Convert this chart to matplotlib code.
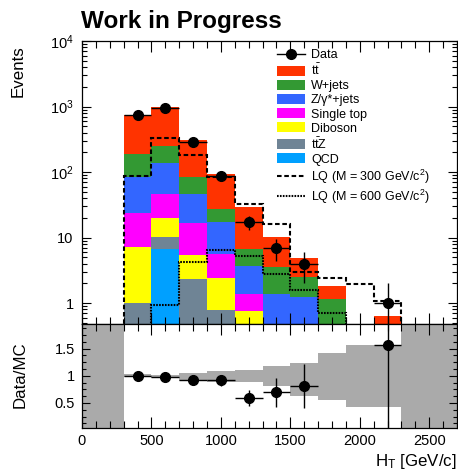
import numpy as np
import matplotlib
matplotlib.use("Agg")
import matplotlib.pyplot as plt
from matplotlib.ticker import MultipleLocator, FixedLocator, FuncFormatter, NullFormatter, LogLocator
from matplotlib.lines import Line2D
from matplotlib.patches import Patch

plt.rcParams['font.family'] = ['Liberation Sans', 'DejaVu Sans']
plt.rcParams['mathtext.fontset'] = 'custom'
plt.rcParams['mathtext.rm'] = 'Liberation Sans'
plt.rcParams['mathtext.it'] = 'Liberation Sans:italic'
plt.rcParams['mathtext.bf'] = 'Liberation Sans:bold'

# ---- binning (H_T in GeV/c) ----
bin_edges = [300, 500, 700, 900, 1100, 1300, 1500, 1700, 1900, 2100, 2300]

# ---- observed events ----
data_counts = [740, 950, 284, 87, 17, 7, 4, 0, 0, 1]

# ---- background expectations (stacked bottom -> top) ----
qcd = [0, 6.6, 0, 0, 0, 0, 0, 0, 0, 0]
ttz = [1.0, 3.7, 2.3, 0.78, 0.3, 0.1, 0.05, 0, 0, 0]
diboson = [6.2, 9.3, 3.1, 1.62, 0.45, 0.1, 0.05, 0.05, 0, 0]
single_top = [16.2, 27.4, 11.1, 3.3, 0.65, 0.1, 0.1, 0.05, 0, 0]
zjets = [61.6, 89, 30.5, 11.7, 2.3, 1.07, 1.02, 0.2, 0, 0]
wjets = [105, 115, 38, 9.6, 3.1, 2.23, 1.28, 0.85, 0, 0]
ttbar = [552, 722, 223, 68, 22.1, 6.5, 2.4, 0.69, 0, 0.64]

# ---- leptoquark signal hypotheses ----
lq300 = [88, 334, 180, 85, 33, 16, 3.0, 2.4, 1.93, 1.08]
lq600 = [0.3, 0.93, 4.2, 6.5, 5.2, 2.8, 1.6, 0.7, 0.3, 0.2]

# ---- MC uncertainty band in the ratio (full range incl. empty regions) ----
band_edges = [0, 300, 500, 700, 900, 1100, 1300, 1500, 1700, 1900, 2100, 2300, 2700]
band_lo = [0.0, 0.97, 0.95, 0.90, 0.88, 0.89, 0.81, 0.62, 0.55, 0.43, 0.43, 0.0]
band_hi = [2.5, 1.03, 1.02, 1.05, 1.08, 1.10, 1.17, 1.24, 1.42, 1.56, 1.56, 2.5]

labels = ['QCD', r't$\bar{\mathrm{t}}$Z', 'Diboson', 'Single top',
          'Z/γ*+jets', 'W+jets', r't$\bar{\mathrm{t}}$']
colors = ['#00a0ff', '#6f8495', '#ffff00', '#ff00ff', '#3366ff', '#339933', '#ff3300']
stack = [qcd, ttz, diboson, single_top, zjets, wjets, ttbar]

W, H = 458, 476
fig = plt.figure(figsize=(W / 100, H / 100), dpi=100)
ax = fig.add_axes([82 / W, 1 - 324 / H, 375 / W, (324 - 41) / H])
rax = fig.add_axes([82 / W, 1 - 428 / H, 375 / W, (428 - 324) / H])

edges = np.array(bin_edges, dtype=float)
centers = 0.5 * (edges[:-1] + edges[1:])
halfw = 0.5 * np.diff(edges)
floor = 1e-3

ax.set_yscale('log')
cum = np.zeros(len(centers))
for vals, col in zip(stack, colors):
    top = cum + np.array(vals, dtype=float)
    ax.stairs(np.maximum(top, floor), edges, baseline=np.maximum(cum, floor),
              fill=True, color=col, lw=0)
    cum = top
mc_total = cum

ax.stairs(lq300, edges, baseline=floor, color='k', lw=1.5, ls=(0, (2.2, 1.3)))
ax.stairs(lq600, edges, baseline=floor, color='k', lw=1.5, ls=(0, (0.8, 0.6)))

data = np.array(data_counts, dtype=float)
m = data > 0
ax.errorbar(centers[m], data[m], xerr=halfw[m], yerr=np.sqrt(data[m]),
            fmt='o', color='k', ms=7, elinewidth=1.0, capsize=0)

ax.set_xlim(0, 2700)
ax.set_ylim(0.48, 1e4)

# ---- ratio panel ----
rax.stairs(band_hi, band_edges, baseline=band_lo, fill=True, color='#aaaaaa', lw=0)
mr = (data > 0) & (mc_total > 0)
ratio = data[mr] / mc_total[mr]
rerr = np.sqrt(data[mr]) / mc_total[mr]
rax.errorbar(centers[mr], ratio, xerr=halfw[mr], yerr=rerr,
             fmt='o', color='k', ms=7, elinewidth=1.0, capsize=0)
rax.set_xlim(0, 2700)
rax.set_ylim(0.04, 1.95)

# ---- axes styling ----
for a in (ax, rax):
    for s in a.spines.values():
        s.set_linewidth(0.9)
    a.xaxis.set_major_locator(MultipleLocator(500))
    a.xaxis.set_minor_locator(MultipleLocator(100))
    a.tick_params(which='both', direction='in', top=True, right=True,
                  width=0.8, labelsize=10.5)
    a.tick_params(axis='x', which='major', length=8)
    a.tick_params(axis='x', which='minor', length=5)

ax.tick_params(axis='x', labelbottom=False)
ax.yaxis.set_major_locator(LogLocator(base=10, numticks=10))
ax.yaxis.set_minor_locator(LogLocator(base=10, subs=np.arange(2, 10), numticks=20))
ax.yaxis.set_minor_formatter(NullFormatter())


def log_label(v, pos):
    e = int(round(np.log10(v)))
    if e == 0:
        return '1'
    if e == 1:
        return '10'
    return r'$\mathregular{10^{%d}}$' % e


ax.yaxis.set_major_formatter(FuncFormatter(log_label))
ax.tick_params(axis='y', which='major', length=6.5, pad=6)
ax.tick_params(axis='y', which='minor', length=3.5)

rax.yaxis.set_major_locator(FixedLocator([0.5, 1.0, 1.5]))
rax.yaxis.set_minor_locator(MultipleLocator(0.125))
rax.yaxis.set_major_formatter(FuncFormatter(lambda v, p: ('%g' % v)))
rax.tick_params(axis='y', which='major', length=6, pad=5)
rax.tick_params(axis='y', which='minor', length=3)
rax.tick_params(axis='x', which='major', pad=4)

# ---- legend ----
handles = [Line2D([], [], color='k', marker='o', ms=7, lw=1.0)]
handles += [Patch(facecolor=c, edgecolor='none') for c in colors[::-1]]
handles += [Line2D([], [], color='k', lw=1.5, ls=(0, (2.2, 1.3))),
            Line2D([], [], color='k', lw=1.5, ls=(0, (0.8, 0.6)))]
leg_labels = ['Data'] + labels[::-1] + [r'LQ (M = 300 GeV/c$^{2}$)',
                                        r'LQ (M = 600 GeV/c$^{2}$)']
fig.legend(handles, leg_labels, loc='upper left',
           bbox_to_anchor=(277 / W, 1 - 49 / H), bbox_transform=fig.transFigure,
           frameon=False, fontsize=9, handlelength=2.24, handleheight=0.84,
           handletextpad=0.48, labelspacing=0.14, borderpad=0, borderaxespad=0,
           numpoints=1)

# ---- text ----
fig.text(81 / W, 1 - 28 / H, 'Work in Progress', fontsize=17.5, fontweight='bold',
         ha='left', va='baseline')
fig.text(18.5 / W, 1 - 45 / H, 'Events', fontsize=12.2, rotation=90,
         ha='center', va='top')
fig.text(20 / W, 1 - 375 / H, 'Data/MC', fontsize=12.2, rotation=90,
         ha='center', va='center')
fig.text(457 / W, 1 - 466 / H, r'H$_{\mathrm{T}}$ [GeV/c]', fontsize=12.2,
         ha='right', va='baseline')

fig.savefig('out.png', dpi=100)
